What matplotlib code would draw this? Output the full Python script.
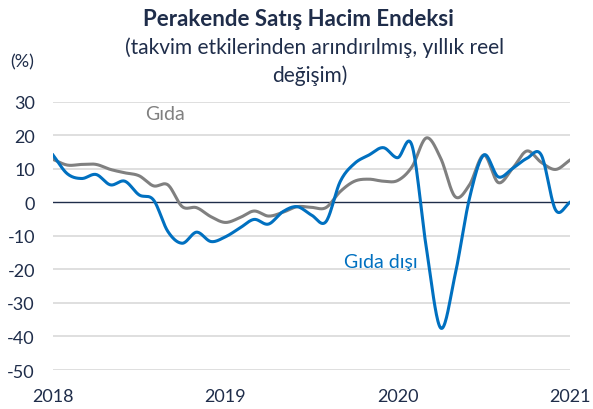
#!/usr/bin/env python3
"""
Perakende Satis Hacim Endeksi - gida / gida disi, yillik reel degisim.
"""

import numpy as np
import matplotlib
matplotlib.use('Agg')
import matplotlib.pyplot as plt

# Monthly data, Jan 2018 .. Jan 2021
months = np.arange(37)
gida = [12.8, 11.1, 11.3, 11.3, 9.8, 8.8, 7.9, 4.9, 5.2, -1.3, -1.6, -4.3,
        -6.0, -4.6, -2.6, -4.1, -3.0, -1.3, -1.5, -1.6, 3.2, 6.3, 6.9, 6.3,
        6.5, 10.6, 19.2, 13.1, 1.7, 5.2, 14.1, 5.9, 10.1, 15.3, 11.9, 9.8,
        12.6]
gida_disi = [14.1, 8.5, 7.1, 8.3, 5.2, 6.3, 2.2, 0.7, -8.7, -12.2, -8.9, -11.7,
             -10.3, -7.7, -5.1, -6.5, -2.8, -1.3, -3.8, -5.8, 6.2, 11.6, 14.1, 16.3,
             13.3, 16.9, -13.7, -37.5, -21.6, 1.2, 14.1, 7.6, 10.1, 13.1, 14.1, -2.3,
             0.0]

year_ticks = [0, 12, 24, 36]
year_labels = ['2018', '2019', '2020', '2021']
y_ticks = [30, 20, 10, 0, -10, -20, -30, -40, -50]

NAVY = '#1f2d4a'
BLUE = '#0070c0'
GRAY = '#808080'

plt.rcParams['font.family'] = ['Lato', 'DejaVu Sans']
plt.rcParams['axes.unicode_minus'] = False


def smooth(x, y, n=20):
    """Catmull-Rom curve through the points (like Excel's smoothed line)."""
    x = np.asarray(x, float)
    y = np.asarray(y, float)
    px = np.concatenate([[2 * x[0] - x[1]], x, [2 * x[-1] - x[-2]]])
    py = np.concatenate([[2 * y[0] - y[1]], y, [2 * y[-1] - y[-2]]])
    t = np.linspace(0, 1, n, endpoint=False)
    xs, ys = [], []
    for i in range(1, len(px) - 2):
        for p, out in ((px, xs), (py, ys)):
            p0, p1, p2, p3 = p[i - 1], p[i], p[i + 1], p[i + 2]
            out.append(0.5 * (2 * p1 + (-p0 + p2) * t
                              + (2 * p0 - 5 * p1 + 4 * p2 - p3) * t ** 2
                              + (-p0 + 3 * p1 - 3 * p2 + p3) * t ** 3))
    xs.append([x[-1]])
    ys.append([y[-1]])
    return np.concatenate(xs), np.concatenate(ys)


fig = plt.figure(figsize=(5.93, 4.10), dpi=100)
ax = fig.add_axes([53 / 593, 1 - 371 / 410, (570 - 53) / 593, (371 - 102.7) / 410])

# Grid
for yv in y_ticks:
    if yv != 0:
        ax.axhline(yv, color='#d9d9d9', linewidth=1.2, zorder=0)
ax.axhline(0, color=NAVY, linewidth=1.0, zorder=1)

sx, sy = smooth(months, gida)
ax.plot(sx, sy, color=GRAY, linewidth=2.2, zorder=2)
sx, sy = smooth(months, gida_disi)
ax.plot(sx, sy, color=BLUE, linewidth=2.2, zorder=3)

ax.set_xlim(0, 36)
ax.set_ylim(-50, 30)
ax.set_xticks(year_ticks)
ax.set_xticklabels(year_labels)
ax.set_yticks(y_ticks)
ax.tick_params(axis='both', length=0, labelsize=13, colors=NAVY)
ax.tick_params(axis='y', pad=13)
ax.tick_params(axis='x', pad=13)
for s in ax.spines.values():
    s.set_visible(False)

# Series labels
ax.text(7.8, 26.5, 'Gıda', color=GRAY, fontsize=14, ha='center', va='center')
ax.text(22.8, -17.5, 'Gıda dışı', color=BLUE, fontsize=14, ha='center', va='center')

# Titles
fig.text(0.503, 1 - 20 / 410, 'Perakende Satış Hacim Endeksi', ha='center', va='center',
         fontsize=16, fontweight='bold', color=NAVY)
fig.text(0.531, 1 - 48 / 410, '(takvim etkilerinden arındırılmış, yıllık reel', ha='center',
         va='center', fontsize=15, color=NAVY)
fig.text(0.523, 1 - 76 / 410, 'değişim)', ha='center', va='center', fontsize=15, color=NAVY)
fig.text(22 / 593, 1 - 62 / 410, '(%)', ha='center', va='center', fontsize=13, color=NAVY)

fig.savefig('out.png', dpi=100)
